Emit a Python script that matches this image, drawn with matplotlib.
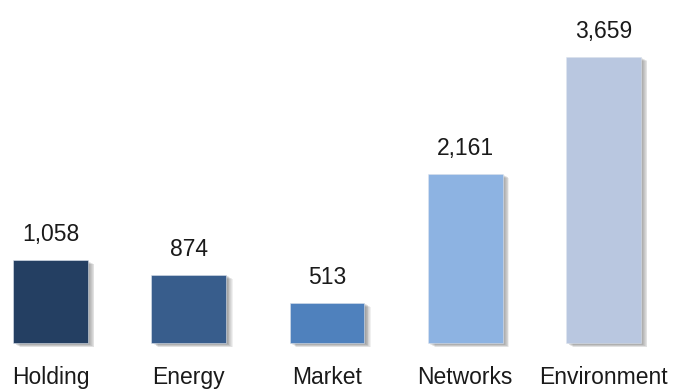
import matplotlib.pyplot as plt
import matplotlib.patheffects as pe

segments = ["Holding", "Energy", "Market", "Networks", "Environment"]
values = [1058, 874, 513, 2161, 3659]
colors = ["#243f62", "#385d8c", "#4f81bd", "#8db3e2", "#b9c7e0"]

plt.rcParams['font.family'] = ['Liberation Sans', 'DejaVu Sans']

fig = plt.figure(figsize=(6.74, 3.89), dpi=100)
ax = fig.add_axes([0, 0, 1, 1])

# soft drop shadow built from a few offset copies
shadow = [pe.SimplePatchShadow(offset=(d, -d * 0.6), shadow_rgbFace='black', alpha=0.06)
          for d in (0.6, 1.2, 1.8, 2.4, 3.0, 3.6, 4.2, 4.8)]

x = range(len(segments))
bars = ax.bar(x, values, width=0.54, color=colors, edgecolor='#dfe6f0', linewidth=0.4,
              zorder=2)
for b in bars:
    b.set_path_effects(shadow + [pe.Normal()])

for i, v in enumerate(values):
    ax.annotate(f"{v:,}", xy=(i, v), xytext=(0, 19), textcoords='offset pixels',
                ha='center', va='baseline', fontsize=16.5, color='#1a1a1a')
    ax.annotate(segments[i], xy=(i, 0), xytext=(0, -41), textcoords='offset pixels',
                ha='center', va='baseline', fontsize=16.5, color='#1a1a1a')

ax.set_xlim(-0.365, 4.51)
ax.set_ylim(-587, 4381)
ax.axis('off')

fig.savefig("out.png", dpi=100)
